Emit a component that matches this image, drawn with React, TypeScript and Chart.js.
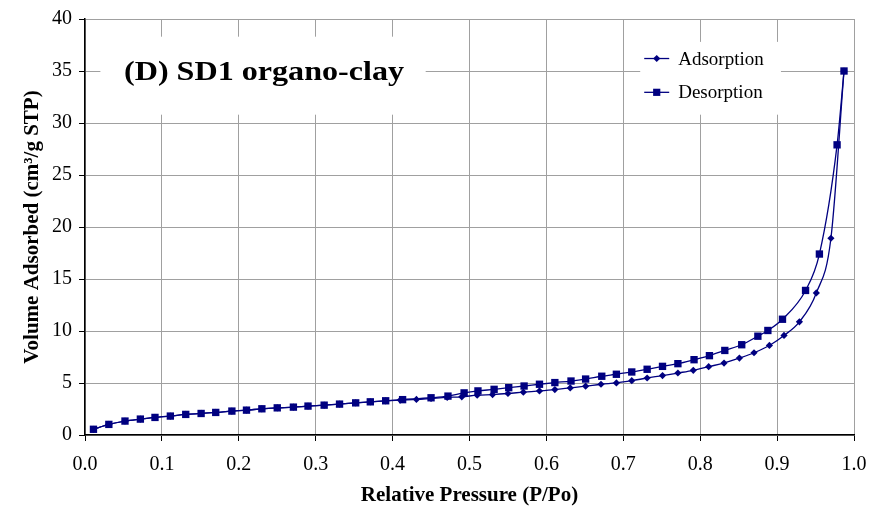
import React, { useEffect, useRef } from 'react';
import { Chart, registerables } from 'chart.js';

Chart.register(...registerables);

const adsorptionX = [
  0.011, 0.031, 0.052, 0.072, 0.091, 0.111, 0.131, 0.151, 0.170, 0.191,
  0.210, 0.230, 0.250, 0.271, 0.290, 0.311, 0.331, 0.352, 0.371, 0.391,
  0.410, 0.431, 0.450, 0.471, 0.490, 0.510, 0.530, 0.550, 0.570, 0.591,
  0.611, 0.631, 0.651, 0.671, 0.691, 0.711, 0.731, 0.751, 0.771, 0.791,
  0.811, 0.831, 0.851, 0.870, 0.890, 0.909, 0.929, 0.951, 0.970, 0.987,
];
const adsorptionY = [
  0.55, 1.02, 1.34, 1.53, 1.69, 1.82, 1.98, 2.07, 2.17, 2.30,
  2.39, 2.52, 2.61, 2.68, 2.78, 2.87, 2.97, 3.09, 3.19, 3.29,
  3.36, 3.42, 3.51, 3.61, 3.67, 3.83, 3.89, 3.99, 4.12, 4.24,
  4.37, 4.53, 4.69, 4.88, 5.01, 5.22, 5.48, 5.71, 5.96, 6.22,
  6.57, 6.92, 7.40, 7.91, 8.61, 9.57, 10.88, 13.66, 18.92, 35.0,
];
const desorptionX = [
  0.011, 0.031, 0.052, 0.072, 0.091, 0.111, 0.131, 0.151, 0.170, 0.191,
  0.210, 0.230, 0.250, 0.271, 0.290, 0.311, 0.331, 0.352, 0.371, 0.391,
  0.413, 0.450, 0.472, 0.493, 0.511, 0.532, 0.551, 0.571, 0.591, 0.611,
  0.632, 0.651, 0.672, 0.691, 0.711, 0.731, 0.751, 0.771, 0.792, 0.812,
  0.832, 0.854, 0.875, 0.888, 0.907, 0.937, 0.955, 0.978, 0.987,
];
const desorptionY = [
  0.55, 1.02, 1.34, 1.53, 1.69, 1.82, 1.98, 2.07, 2.17, 2.30,
  2.39, 2.52, 2.61, 2.68, 2.78, 2.87, 2.97, 3.09, 3.19, 3.29,
  3.40, 3.58, 3.74, 4.05, 4.24, 4.39, 4.55, 4.71, 4.88, 5.04,
  5.19, 5.38, 5.65, 5.84, 6.06, 6.32, 6.60, 6.86, 7.24, 7.63,
  8.13, 8.68, 9.50, 10.05, 11.13, 13.9, 17.4, 27.9, 35.0,
];

const seriesNames = ['Adsorption', 'Desorption'];
const chartTitle = '(D) SD1 organo-clay';
const xAxisTitle = 'Relative Pressure (P/Po)';
const yAxisTitle = 'Volume Adsorbed (cm\u00B3/g STP)';

const NAVY = '#000080';
const GRID = '#a0a0a0';
const SERIF = '"Liberation Serif", "Times New Roman", serif';

function drawMarker(ctx: CanvasRenderingContext2D, kind: string, x: number, y: number) {
  ctx.beginPath();
  if (kind === 'diamond') {
    const r = 3.6;
    ctx.moveTo(x, y - r);
    ctx.lineTo(x + r, y);
    ctx.lineTo(x, y + r);
    ctx.lineTo(x - r, y);
    ctx.closePath();
  } else {
    const h = 3.6;
    ctx.rect(x - h, y - h, 2 * h, 2 * h);
  }
  ctx.fill();
}

const overlayPlugin = {
  id: 'overlay',
  beforeDatasetsDraw(chart: any) {
    const ctx: CanvasRenderingContext2D = chart.ctx;
    const xs = chart.scales.x;
    const ys = chart.scales.y;
    ctx.save();
    // title box
    const tL = xs.getPixelForValue(0.02);
    const tR = xs.getPixelForValue(0.443);
    const tT = ys.getPixelForValue(38.3);
    const tB = ys.getPixelForValue(30.8);
    ctx.fillStyle = '#ffffff';
    ctx.fillRect(tL, tT, tR - tL, tB - tT);
    ctx.fillStyle = '#000000';
    ctx.font = 'bold 28px ' + SERIF;
    ctx.textAlign = 'center';
    ctx.textBaseline = 'middle';
    const tw = ctx.measureText(chartTitle).width;
    const target = 280;
    const cx = (tL + tR) / 2 + 1;
    const cy = ys.getPixelForValue(34.85);
    ctx.save();
    ctx.translate(cx, cy);
    ctx.scale(target / tw, 1);
    ctx.fillText(chartTitle, 0, 0);
    ctx.restore();

    // legend box
    const lL = xs.getPixelForValue(0.722);
    const lR = xs.getPixelForValue(0.905);
    const lT = ys.getPixelForValue(37.8);
    const lB = ys.getPixelForValue(30.8);
    ctx.fillStyle = '#ffffff';
    ctx.fillRect(lL, lT, lR - lL, lB - lT);
    const rows = [ys.getPixelForValue(36.2), ys.getPixelForValue(32.95)];
    const kinds = ['diamond', 'square'];
    const x0 = lL + 4;
    const x1 = lL + 29;
    ctx.font = '19px ' + SERIF;
    ctx.textAlign = 'left';
    ctx.textBaseline = 'middle';
    rows.forEach((ry, i) => {
      ctx.strokeStyle = NAVY;
      ctx.lineWidth = 1.3;
      ctx.beginPath();
      ctx.moveTo(x0, ry);
      ctx.lineTo(x1, ry);
      ctx.stroke();
      ctx.fillStyle = NAVY;
      drawMarker(ctx, kinds[i], (x0 + x1) / 2, ry);
      ctx.fillStyle = '#000000';
      ctx.fillText(seriesNames[i], x1 + 9, ry + 1);
    });
    ctx.restore();
  },
};

export default function App() {
  const ref = useRef<HTMLCanvasElement | null>(null);
  useEffect(() => {
    if (!ref.current) return;
    const toPts = (xs: number[], ys: number[]) => xs.map((x, i) => ({ x, y: ys[i] }));
    const chart = new Chart(ref.current, {
      type: 'line',
      data: {
        datasets: [
          {
            label: seriesNames[0],
            data: toPts(adsorptionX, adsorptionY),
            borderColor: NAVY,
            backgroundColor: NAVY,
            borderWidth: 1.3,
            pointStyle: 'rectRot',
            pointRadius: 3.6,
            pointBorderWidth: 0,
            cubicInterpolationMode: 'monotone',
            order: 1,
          },
          {
            label: seriesNames[1],
            data: toPts(desorptionX, desorptionY),
            borderColor: NAVY,
            backgroundColor: NAVY,
            borderWidth: 1.3,
            pointStyle: 'rect',
            pointRadius: 5.2,
            pointBorderWidth: 0,
            cubicInterpolationMode: 'monotone',
            order: 0,
          },
        ],
      },
      options: {
        animation: false,
        responsive: true,
        maintainAspectRatio: false,
        layout: { padding: { top: 17, right: 28, bottom: 0, left: 0 } },
        plugins: {
          legend: { display: false },
          tooltip: { enabled: false },
          title: { display: false },
        },
        scales: {
          x: {
            type: 'linear',
            min: 0,
            max: 1,
            afterFit: (s: any) => { s.height = 79; },
            ticks: {
              stepSize: 0.1,
              color: '#000',
              font: { family: SERIF, size: 20 },
              padding: 12,
              maxRotation: 0,
              callback: (v: any) => Number(v).toFixed(1),
            },
            grid: { color: GRID, lineWidth: 1, tickColor: '#000', tickLength: 6 },
            border: { color: '#000', width: 1.5 },
            title: {
              display: true,
              text: xAxisTitle,
              color: '#000',
              font: { family: SERIF, size: 21, weight: 'bold' },
              padding: { top: 0, bottom: 6 },
            },
          },
          y: {
            type: 'linear',
            min: 0,
            max: 40,
            afterFit: (s: any) => { s.width = 85; },
            ticks: {
              stepSize: 5,
              color: '#000',
              font: { family: SERIF, size: 20 },
              padding: 7,
            },
            grid: { color: GRID, lineWidth: 1, tickColor: '#000', tickLength: 6 },
            border: { color: '#000', width: 1.5 },
            title: {
              display: true,
              text: yAxisTitle,
              color: '#000',
              font: { family: SERIF, size: 21, weight: 'bold' },
              padding: { top: 20, bottom: 0 },
            },
          },
        },
      },
      plugins: [overlayPlugin],
    } as any);
    return () => chart.destroy();
  }, []);
  return (
    <div style={{ position: 'fixed', left: 0, top: 0, width: 882, height: 514, background: '#fff' }}>
      <canvas ref={ref} />
    </div>
  );
}
